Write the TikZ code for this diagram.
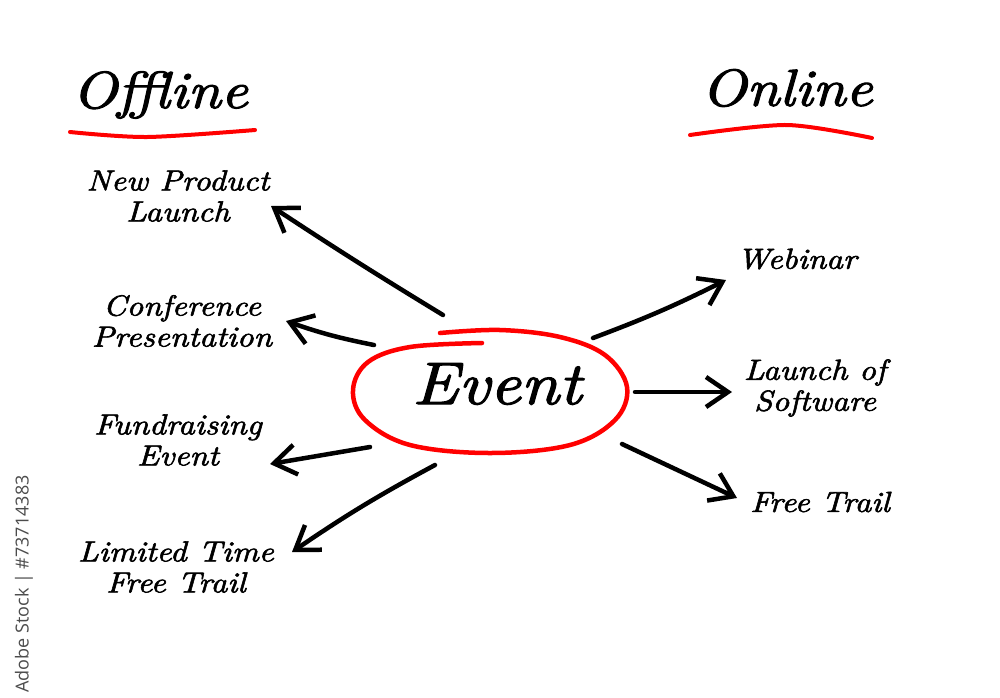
\documentclass[tikz,border=0pt]{standalone}
\usepackage{fontspec}
\newfontfamily\wmfont{Open Sans}
\newfontfamily\hand[Extension=.otf, FakeStretch=1.13, FakeBold=2]{lmroman10-italic}
\usetikzlibrary{arrows.meta,shapes.geometric}
\begin{document}
\begin{tikzpicture}[x=1pt,y=-1pt,
  lbl/.style={font=\hand\fontsize{29}{31}\selectfont, align=center, inner sep=0pt, text=black},
  head/.style={font=\hand\fontsize{52}{56}\selectfont, inner sep=0pt, text=black},
  arr/.style={draw=black, line width=4.5pt, line cap=round, line join=round,
    -{Straight Barb[length=22pt,width=30pt,line width=4.5pt]}},
  uline/.style={draw=red, line width=4pt, line cap=round},
  ring/.style={ellipse, minimum width=274pt, minimum height=124pt, inner sep=0pt}
]
\useasboundingbox[fill=white] (0,0) rectangle (1000,697);

% headings
\node[head] (off) at (160,95) {Offline};
\node[head] (on) at (787,88) {Online};
\coordinate (u1a) at (70,132); \coordinate (u1b) at (147,137); \coordinate (u1c) at (255,130);
\coordinate (u2a) at (690,135); \coordinate (u2b) at (787,125); \coordinate (u2c) at (872,138);
\draw[uline] plot[smooth] coordinates {(u1a) (u1b) (u1c)};
\draw[uline] plot[smooth] coordinates {(u2a) (u2b) (u2c)};

% centre
\node[ring] (event) at (490,390) {};
\draw[draw=red, line width=4.5pt, line cap=round, line join=round]
  plot[smooth, tension=0.6] coordinates {(440,333) (500,330) (560,337) (605,355) (627,387) (615,420) (570,445) (490,453) (410,445) (365,420) (353,390) (368,362) (410,347) (482,343)};
\node[font=\hand\fontsize{60}{64}\selectfont, inner sep=0pt] (evtxt) at (497,384) {Event};

% labels
\node[lbl] (npl) at (178,196) {New Product\\Launch};
\node[lbl] (cp) at (182,321) {Conference\\Presentation};
\node[lbl] (fe) at (178,440) {Fundraising\\Event};
\node[lbl] (lt) at (176,567) {Limited Time\\Free Trail};
\node[lbl] (web) at (797,259) {Webinar};
\node[lbl] (los) at (815,388) {Launch of\\Software};
\node[lbl] (ft) at (820,502) {Free Trail};

% arrow ends
\coordinate (s1) at (443,315); \coordinate (e1) at (271,206);
\coordinate (s2) at (374,345); \coordinate (e2) at (286,321);
\coordinate (s3) at (370,447); \coordinate (e3) at (270,464);
\coordinate (s4) at (435,465); \coordinate (e4) at (292,552);
\coordinate (s5) at (593,338); \coordinate (e5) at (726,280);
\coordinate (s6) at (635,392); \coordinate (e6) at (732,392);
\coordinate (s7) at (622,444); \coordinate (e7) at (737,498);

\draw[arr] (s1) to[bend left=1] (e1);
\draw[arr] (s2) to[bend left=4] (e2);
\draw[arr] (s3) -- (e3);
\draw[arr] (s4) to[bend right=3] (e4);
\draw[arr] (s5) to[bend right=3] (e5);
\draw[arr] (s6) -- (e6);
\draw[arr] (s7) -- (e7);

% watermark
\node[font=\wmfont\fontsize{18}{20}\selectfont, text=black!70, rotate=90, inner sep=0pt] (wm) at (24,584) {Adobe Stock | \#73714383};
\end{tikzpicture}
\end{document}
